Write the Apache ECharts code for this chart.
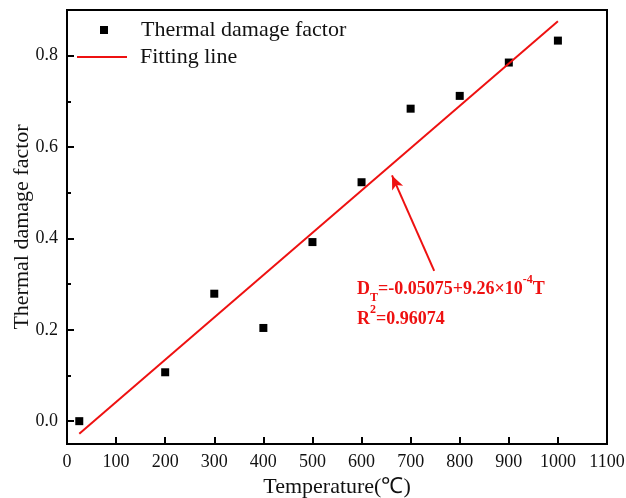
<!DOCTYPE html>
<html>
<head>
    <meta charset="utf-8">
    <script src="https://cdn.jsdelivr.net/npm/echarts@6/dist/echarts.min.js"></script>
    <style>
        html, body { margin: 0; padding: 0; background: #fff; }
        #main { width: 626px; height: 498px; }
    </style>
</head>
<body>
<div id="main"></div>
<script>
    // measured points
    var temperature = [25, 200, 300, 400, 500, 600, 700, 800, 900, 1000];
    var damage = [0.0, 0.107, 0.279, 0.204, 0.392, 0.523, 0.684, 0.712, 0.785, 0.833];
    // fitting line end points (D = -0.05075 + 9.26e-4 T)
    var fitT = [25, 1000];
    var fitD = [-0.0276, 0.8753];
    // tick labels
    var yMajor = [0, 0.2, 0.4, 0.6, 0.8];
    var yMinor = [0.1, 0.3, 0.5, 0.7];
    // arrow of the annotation, data coords: [tail, head]
    var arrowFrom = [748, 0.329];
    var arrowTo = [662, 0.538];

    var font = '"Liberation Serif", "Times New Roman", serif';
    var red = '#ee1111';
    var pts = temperature.map(function (t, i) { return [t, damage[i]]; });
    var fit = fitT.map(function (t, i) { return [t, fitD[i]]; });

    var chart = echarts.init(document.getElementById('main'));
    chart.setOption({
        animation: false,
        grid: { left: 67, right: 19, top: 10, bottom: 54, outerBoundsMode: 'none', containLabel: false },
        legend: [{
            // square marker
            left: 95, top: 14,
            itemWidth: 8, itemHeight: 8,
            textStyle: { fontFamily: font, fontSize: 22, color: '#111', padding: [0, 0, 0, 28] },
            data: [{ name: 'Thermal damage factor', icon: 'rect', itemStyle: { color: '#000', opacity: 1 } }]
        }, {
            // line
            left: 72, top: 41,
            itemWidth: 50, itemHeight: 2,
            textStyle: { fontFamily: font, fontSize: 22, color: '#111', padding: [0, 0, 0, 8] },
            data: [{ name: 'Fitting line', icon: 'path://M0,0 H50 V2 H0 Z', itemStyle: { color: red } }]
        }],
        xAxis: {
            type: 'value',
            min: 0, max: 1100, interval: 100,
            name: 'Temperature(℃)',
            nameLocation: 'middle', nameGap: 31,
            nameTextStyle: { fontFamily: font, fontSize: 22, color: '#111' },
            axisLine: { onZero: false, lineStyle: { color: '#000', width: 2 } },
            axisTick: { inside: true, length: 7, lineStyle: { color: '#000', width: 2 } },
            axisLabel: { fontFamily: font, fontSize: 18, color: '#111', margin: 9,
                formatter: function (v) { return String(v); } },
            splitLine: { show: false }
        },
        yAxis: [{
            type: 'value',
            min: -0.05, max: 0.9,
            name: 'Thermal damage factor',
            nameLocation: 'middle', nameGap: 34,
            nameMoveOverlap: false,
            nameTextStyle: { fontFamily: font, fontSize: 22, color: '#111' },
            axisLine: { show: true, onZero: false, lineStyle: { color: '#000', width: 2 } },
            axisTick: { inside: true, length: 7, customValues: yMajor, lineStyle: { color: '#000', width: 2 } },
            axisLabel: { fontFamily: font, fontSize: 18, color: '#111', margin: 9, customValues: yMajor,
                formatter: function (v) { return v.toFixed(1); } },
            splitLine: { show: false }
        }, {
            type: 'value',
            min: -0.05, max: 0.9,
            position: 'left',
            axisLine: { show: false },
            axisTick: { show: true, inside: true, length: 4, customValues: yMinor, lineStyle: { color: '#000', width: 2 } },
            axisLabel: { show: false },
            splitLine: { show: false }
        }],
        graphic: [{
            type: 'rect',
            shape: { x: 67, y: 10, width: 540, height: 434 },
            style: { fill: 'none', stroke: '#000', lineWidth: 2 },
            silent: true
        }, {
            type: 'text',
            left: 357, top: 274,
            style: {
                text: '{b|D}{s|T}{b|=-0.05075+9.26×10}{p|-4}{b|T}\n{b|R}{p|2}{b|=0.96074}',
                rich: {
                    b: { fontFamily: font, fontSize: 18, fontWeight: 'bold', fill: red, lineHeight: 30 },
                    s: { fontFamily: font, fontSize: 12, fontWeight: 'bold', fill: red, verticalAlign: 'bottom', padding: [10, 0, 0, 0], lineHeight: 30 },
                    p: { fontFamily: font, fontSize: 12, fontWeight: 'bold', fill: red, verticalAlign: 'top', padding: [0, 0, 8, 0], lineHeight: 30 }
                }
            }
        }],
        series: [{
            name: 'Thermal damage factor',
            type: 'scatter',
            data: pts,
            symbol: 'rect',
            symbolSize: 8,
            itemStyle: { color: '#000', opacity: 1 }
        }, {
            name: 'Fitting line',
            type: 'line',
            data: fit,
            symbol: 'none',
            lineStyle: { color: red, width: 2 },
            itemStyle: { color: red },
            markLine: {
                silent: true,
                symbol: ['none', 'arrow'],
                symbolSize: [9, 14],
                label: { show: false },
                lineStyle: { color: red, width: 2, type: 'solid' },
                data: [[{ coord: arrowFrom }, { coord: arrowTo }]]
            }
        }]
    });
</script>
</body>
</html>
